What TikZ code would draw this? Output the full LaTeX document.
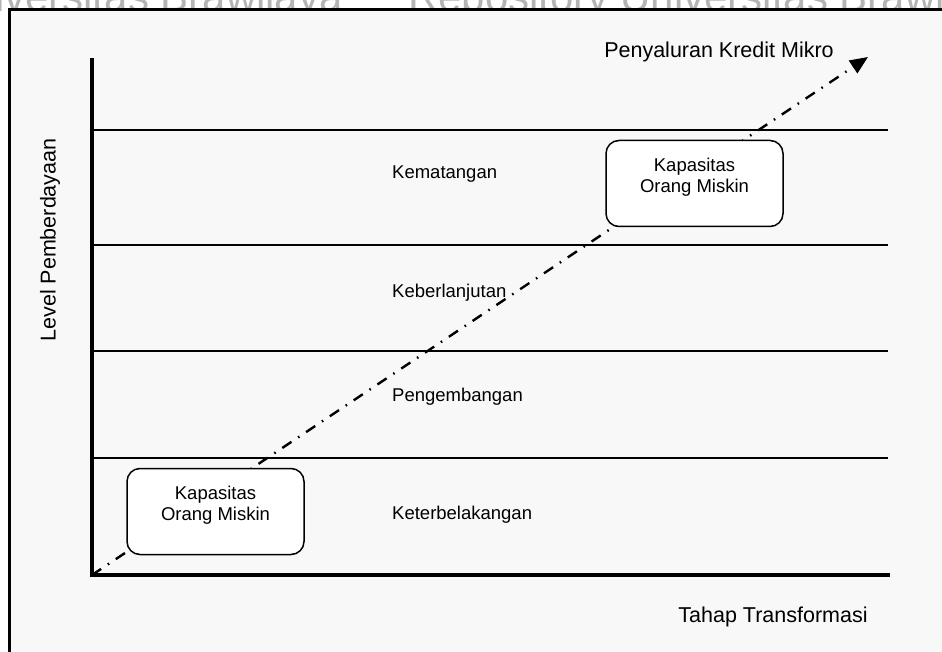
\documentclass[tikz,border=0pt]{standalone}
\usepackage{fontspec}
\setmainfont{Liberation Sans}
\usetikzlibrary{arrows.meta}

\definecolor{panel}{HTML}{F8F8F8}
\definecolor{wmark}{HTML}{B4B4B4}

\tikzset{
  level line/.style={line width=1.6pt, black},
  axis line/.style={line width=3.4pt, black, line cap=rect},
  growth/.style={line width=2.4pt, dash pattern=on 11pt off 8pt on 1.6pt off 8pt,
                 -{Triangle[length=18pt,width=15pt]}},
  capbox/.style={draw, line width=1.5pt, fill=white, rounded corners=13pt,
                 minimum width=177pt, minimum height=86pt, inner sep=0pt},
  boxtext/.style={align=center, font=\fontsize{18.5}{21}\selectfont, inner sep=0pt},
  stage/.style={anchor=west, font=\fontsize{18.5}{21}\selectfont, inner sep=0pt},
  title/.style={font=\fontsize{21.5}{25}\selectfont, inner sep=0pt},
  watermark/.style={text=wmark, font=\fontsize{42}{48}\selectfont, inner sep=0pt}
}

\begin{document}
\begin{tikzpicture}[x=1pt, y=-1pt]
  \useasboundingbox (0,0) rectangle (942,652);
  \fill[white] (0,0) rectangle (942,652);

  % repository watermark along the top edge
  \node[watermark, anchor=base east] (wmL) at (343,12) {Universitas Brawijaya};
  \node[watermark, anchor=base west] (wmR) at (408,12) {Repository Universitas Brawijaya};

  % page frame
  \begin{scope}
    \clip (0,0) rectangle (942,652);
    \draw[line width=3pt, fill=panel] (9,10) rectangle (960,680);
  \end{scope}

  % axes and level boundaries
  \coordinate (O) at (92,575);
  \coordinate (ytop) at (92,60);
  \coordinate (xend) at (888,575);
  \coordinate (tip) at (868,57);
  \foreach \yy/\nm in {130/l1, 245/l2, 351/l3, 458/l4} {
    \coordinate (\nm a) at (92,\yy);
    \coordinate (\nm b) at (888,\yy);
    \draw[level line] (\nm a) -- (\nm b);
  }

  % micro-credit growth path
  \draw[growth] (O) -- (tip);

  \draw[axis line] (ytop) -- (O) -- (xend);

  % capacity boxes
  \node[capbox] (box1) at (215.5,511.5) {};
  \node[boxtext] (box1txt) at ([yshift=6pt]box1.center) {Kapasitas\\Orang Miskin};
  \node[capbox] (box2) at (694.5,183.5) {};
  \node[boxtext] (box2txt) at ([yshift=6pt]box2.center) {Kapasitas\\Orang Miskin};

  % stage labels
  \node[stage] (s4) at (392,174) {Kematangan};
  \node[stage] (s3) at (392,293) {Keberlanjutan};
  \node[stage] (s2) at (392,397) {Pengembangan};
  \node[stage] (s1) at (392,515) {Keterbelakangan};

  % axis titles
  \node[title] (ptitle) at (719,52) {Penyaluran Kredit Mikro};
  \node[title] (xtitle) at (773,617) {Tahap Transformasi};
  \node[title, rotate=90] (ytitle) at (50,240) {Level Pemberdayaan};
\end{tikzpicture}
\end{document}
